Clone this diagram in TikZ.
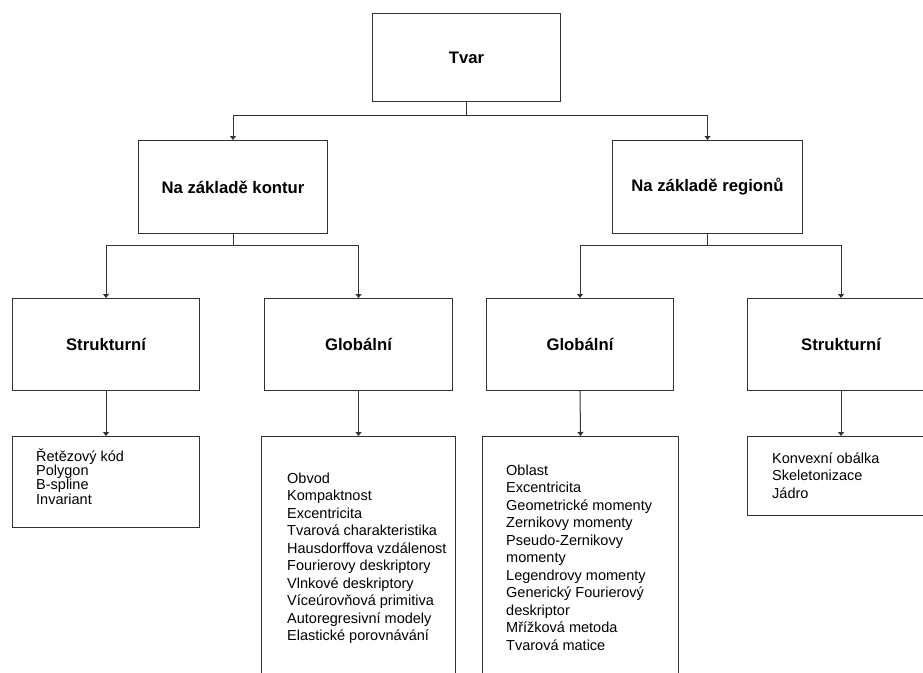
\documentclass[tikz,border=0pt]{standalone}
\usepackage{fontspec}
\setmainfont{Liberation Sans}
\usetikzlibrary{arrows.meta,calc}
\definecolor{linec}{RGB}{51,51,51}
\begin{document}
\begin{tikzpicture}[x=1pt,y=-1pt,
  box/.style={draw=linec, line width=1pt, inner sep=0pt, anchor=north west},
  hdr/.style={box, font=\fontsize{16.7}{20}\selectfont\bfseries},
  lst/.style={inner sep=0pt, anchor=north west, align=left, font=\fontsize{14.5}{17.5}\selectfont},
  lsttight/.style={lst, font=\fontsize{14.5}{14.3}\selectfont},
  con/.style={draw=linec, line width=1pt, -{Triangle[length=4pt,width=6pt]}}]
\clip (0,0) rectangle (923,672);
\fill[white] (0,0) rectangle (923,672);
% level 1
\node[hdr, minimum width=188pt, minimum height=88pt] (tvar) at (372,13) {Tvar};
% level 2
\node[hdr, minimum width=189pt, minimum height=93pt] (kontur) at (138,140) {Na základě kontur};
\node[hdr, minimum width=190pt, minimum height=93pt] (region) at (612,140) {Na základě regionů};
% level 3
\node[hdr, minimum width=187pt, minimum height=92pt] (sL) at (12,298) {Strukturní};
\node[hdr, minimum width=188pt, minimum height=92pt] (gL) at (264,298) {Globální};
\node[hdr, minimum width=187pt, minimum height=92pt] (gR) at (486,298) {Globální};
\node[hdr, minimum width=187pt, minimum height=92pt] (sR) at (747,298) {Strukturní};
% level 4 boxes
\node[box, minimum width=187pt, minimum height=91pt] (l1) at (12,436) {};
\node[box, minimum width=194pt, minimum height=260pt] (l2) at (261,436) {};
\node[box, minimum width=196pt, minimum height=260pt] (l3) at (482,436) {};
\node[box, minimum width=187pt, minimum height=79pt] (l4) at (747,436) {};
% level 4 texts
\node[lsttight] (t1) at (36,446) {\rule{0pt}{15pt}Řetězový kód\\Polygon\\B-spline\\Invariant};
\node[lst] (t2) at (287,468) {\rule{0pt}{15pt}Obvod\\Kompaktnost\\Excentricita\\Tvarová charakteristika\\Hausdorffova vzdálenost\\Fourierovy deskriptory\\Vlnkové deskriptory\\Víceúrovňová primitiva\\Autoregresivní modely\\Elastické porovnávání};
\node[lst] (t3) at (506,460) {\rule{0pt}{15pt}Oblast\\Excentricita\\Geometrické momenty\\Zernikovy momenty\\Pseudo-Zernikovy\\momenty\\Legendrovy momenty\\Generický Fourierový\\deskriptor\\Mřížková metoda\\Tvarová matice};
\node[lst] (t4) at (772,448) {\rule{0pt}{15pt}Konvexní obálka\\Skeletonizace\\Jádro};
% connectors
\draw[con] (tvar.south) -- ++(0,13) -| (kontur.north);
\draw[con] (tvar.south) -- ++(0,13) -| (region.north);
\draw[con] (kontur.south) -- ++(0,11) -| (sL.north);
\draw[con] (kontur.south) -- ++(0,11) -| (gL.north);
\draw[con] (region.south) -- ++(0,11) -| (gR.north);
\draw[con] (region.south) -- ++(0,11) -| (sR.north);
\draw[con] (sL.south) -- (l1.north);
\draw[con] (gL.south) -- (l2.north);
\draw[con] (gR.south) -- (l3.north);
\draw[con] (sR.south) -- (l4.north);
\end{tikzpicture}
\end{document}
